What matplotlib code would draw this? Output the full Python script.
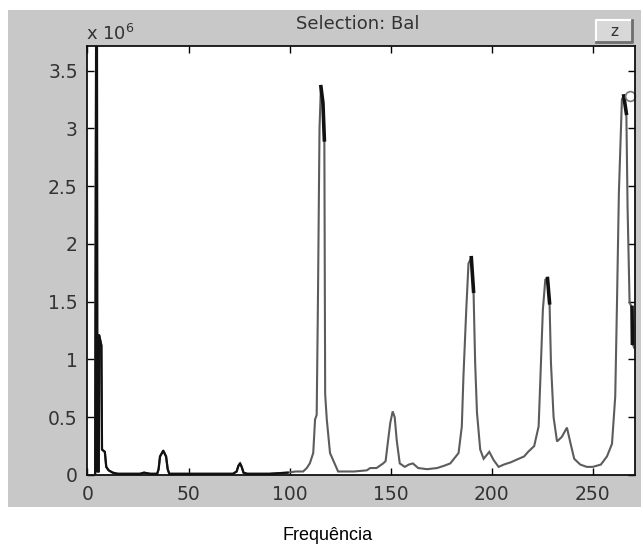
import numpy as np
import matplotlib
matplotlib.use("Agg")
import matplotlib.pyplot as plt
from matplotlib.patches import Rectangle
from matplotlib.lines import Line2D

# spectrum (amplitude in units of 10^6)
freq = [3.8, 4.3, 4.7, 4.9, 5.6, 5.8, 6.9, 7.2, 8.6, 9.3, 10.5, 12.5, 15, 26, 28, 31,
        34.5, 35.2, 35.9, 37.5, 38.9, 39.7, 40.5, 50, 60, 72, 73.8, 74.7, 75.5, 76.3,
        77.2, 79, 90, 99, 103, 106.7, 108.5, 110, 111.7, 112.6, 113.4, 114.0, 114.8,
        115.5, 116.5, 117.2, 117.6, 118.4, 120, 122.5, 124, 132, 138.2, 139.9, 143,
        146.3, 147.5, 148.6, 149.8, 151, 152, 153, 154.5, 157, 159, 161, 163.6, 168,
        173, 176.5, 179.5, 183.6, 185.2, 186, 187.4, 188.5, 189.9, 191, 191.8, 192.7,
        194.3, 196, 198.8, 200.9, 203.4, 206, 209.5, 212, 216, 218, 221, 223.2, 224,
        225.3, 226.5, 227.6, 228.6, 229.3, 230.6, 232.3, 234.7, 237.2, 238.9, 240.8,
        243.8, 247, 250, 254, 257, 259.5, 261.1, 262, 262.9, 264.4, 265.3, 266.6,
        267.2, 268.2, 269.4, 269.6, 270.5]
amp = [0.0, 3.9, 3.9, 0.03, 0.03, 1.21, 1.12, 0.22, 0.2, 0.07, 0.04, 0.02, 0.01, 0.01,
       0.02, 0.01, 0.01, 0.05, 0.16, 0.21, 0.16, 0.05, 0.01, 0.01, 0.01, 0.01, 0.03,
       0.08, 0.1, 0.07, 0.02, 0.01, 0.01, 0.02, 0.03, 0.03, 0.06, 0.1, 0.19, 0.48, 0.52,
       1.46, 3.0, 3.36, 3.22, 2.9, 0.7, 0.48, 0.19, 0.09, 0.03, 0.03, 0.04, 0.06, 0.06,
       0.1, 0.12, 0.28, 0.45, 0.55, 0.5, 0.3, 0.1, 0.07, 0.09, 0.1, 0.06, 0.05, 0.06,
       0.08, 0.1, 0.19, 0.42, 0.85, 1.43, 1.83, 1.88, 1.59, 0.97, 0.54, 0.22, 0.14,
       0.2, 0.13, 0.07, 0.09, 0.11, 0.13, 0.16, 0.2, 0.25, 0.42, 0.8, 1.43, 1.69, 1.7,
       1.49, 0.97, 0.5, 0.29, 0.33, 0.41, 0.28, 0.14, 0.09, 0.07, 0.07, 0.09, 0.16,
       0.27, 0.68, 1.52, 2.44, 3.25, 3.28, 3.13, 2.32, 1.49, 1.45, 1.14, 1.1]

# stretches that show up darker in the picture
dark_spans = [(0, 100), (115.5, 117.2), (189.9, 191), (227.6, 228.6),
              (265.3, 266.6), (269.4, 269.6)]

xticks = [0, 50, 100, 150, 200, 250]
yticks = [0, 0.5, 1, 1.5, 2, 2.5, 3, 3.5]
yticklabels = ['0', '0.5', '1', '1.5', '2', '2.5', '3', '3.5']

freq = np.array(freq)
amp = np.array(amp)

fig = plt.figure(figsize=(6.43, 5.51), dpi=100)
fig.patch.set_facecolor('white')

# grey window panel behind the axes
fig.patches.append(Rectangle((0.0124, 0.08), 0.985, 0.902, transform=fig.transFigure,
                             facecolor='#c8c8c8', edgecolor='none', zorder=-5))

ax = fig.add_axes([0.136, 0.138, 0.851, 0.778])
ax.set_facecolor('white')

ax.plot(freq, amp, color='#5c5c5c', lw=1.5, solid_joinstyle='miter')
for a, b in dark_spans:
    m = (freq >= a) & (freq <= b)
    ax.plot(freq[m], amp[m], color='#111111', lw=1.6 if a == 0 else 2.6)

# selection marker at the top right
ax.plot([268.6], [3.28], 'o', ms=7, mfc='none', mec='#777777', mew=1.2, clip_on=False)

ax.set_xlim(0, 270.7)
ax.set_ylim(0, 3.71)
ax.set_xticks(xticks)
ax.set_yticks(yticks)
ax.set_yticklabels(yticklabels)
ax.tick_params(direction='in', length=5, width=1, top=True, right=True,
               labelsize=13.5, labelcolor='#333333', pad=7)
for s in ax.spines.values():
    s.set_linewidth(1.3)
    s.set_color('#111111')

fig.text(358 / 643, 1 - 24 / 551, 'Selection: Bal', ha='center', va='center',
         fontsize=13, color='#333333')
fig.text(86 / 643, 1 - 34 / 551, r'x 10$^6$', ha='left', va='center',
         fontsize=13, color='#333333')
fig.text(328 / 643, 1 - 536 / 551, 'Frequência', ha='center', va='center',
         fontsize=13, family='Liberation Sans', color='black')

# little "z" button
bx, by, bw, bh = 596 / 643, 1 - 42 / 551, 36 / 643, 22 / 551
fig.patches.append(Rectangle((bx, by), bw, bh, transform=fig.transFigure,
                             facecolor='#d8d8d8', edgecolor='none', zorder=1))
fig.lines.append(Line2D([bx, bx, bx + bw], [by, by + bh, by + bh], transform=fig.transFigure,
                        color='white', lw=1.5))
fig.lines.append(Line2D([bx, bx + bw, bx + bw], [by, by, by + bh], transform=fig.transFigure,
                        color='#6e6e6e', lw=2))
fig.text(bx + bw / 2, by + bh / 2, 'z', ha='center', va='center', fontsize=11,
         color='#333333')

plt.savefig('out.png', dpi=100)
